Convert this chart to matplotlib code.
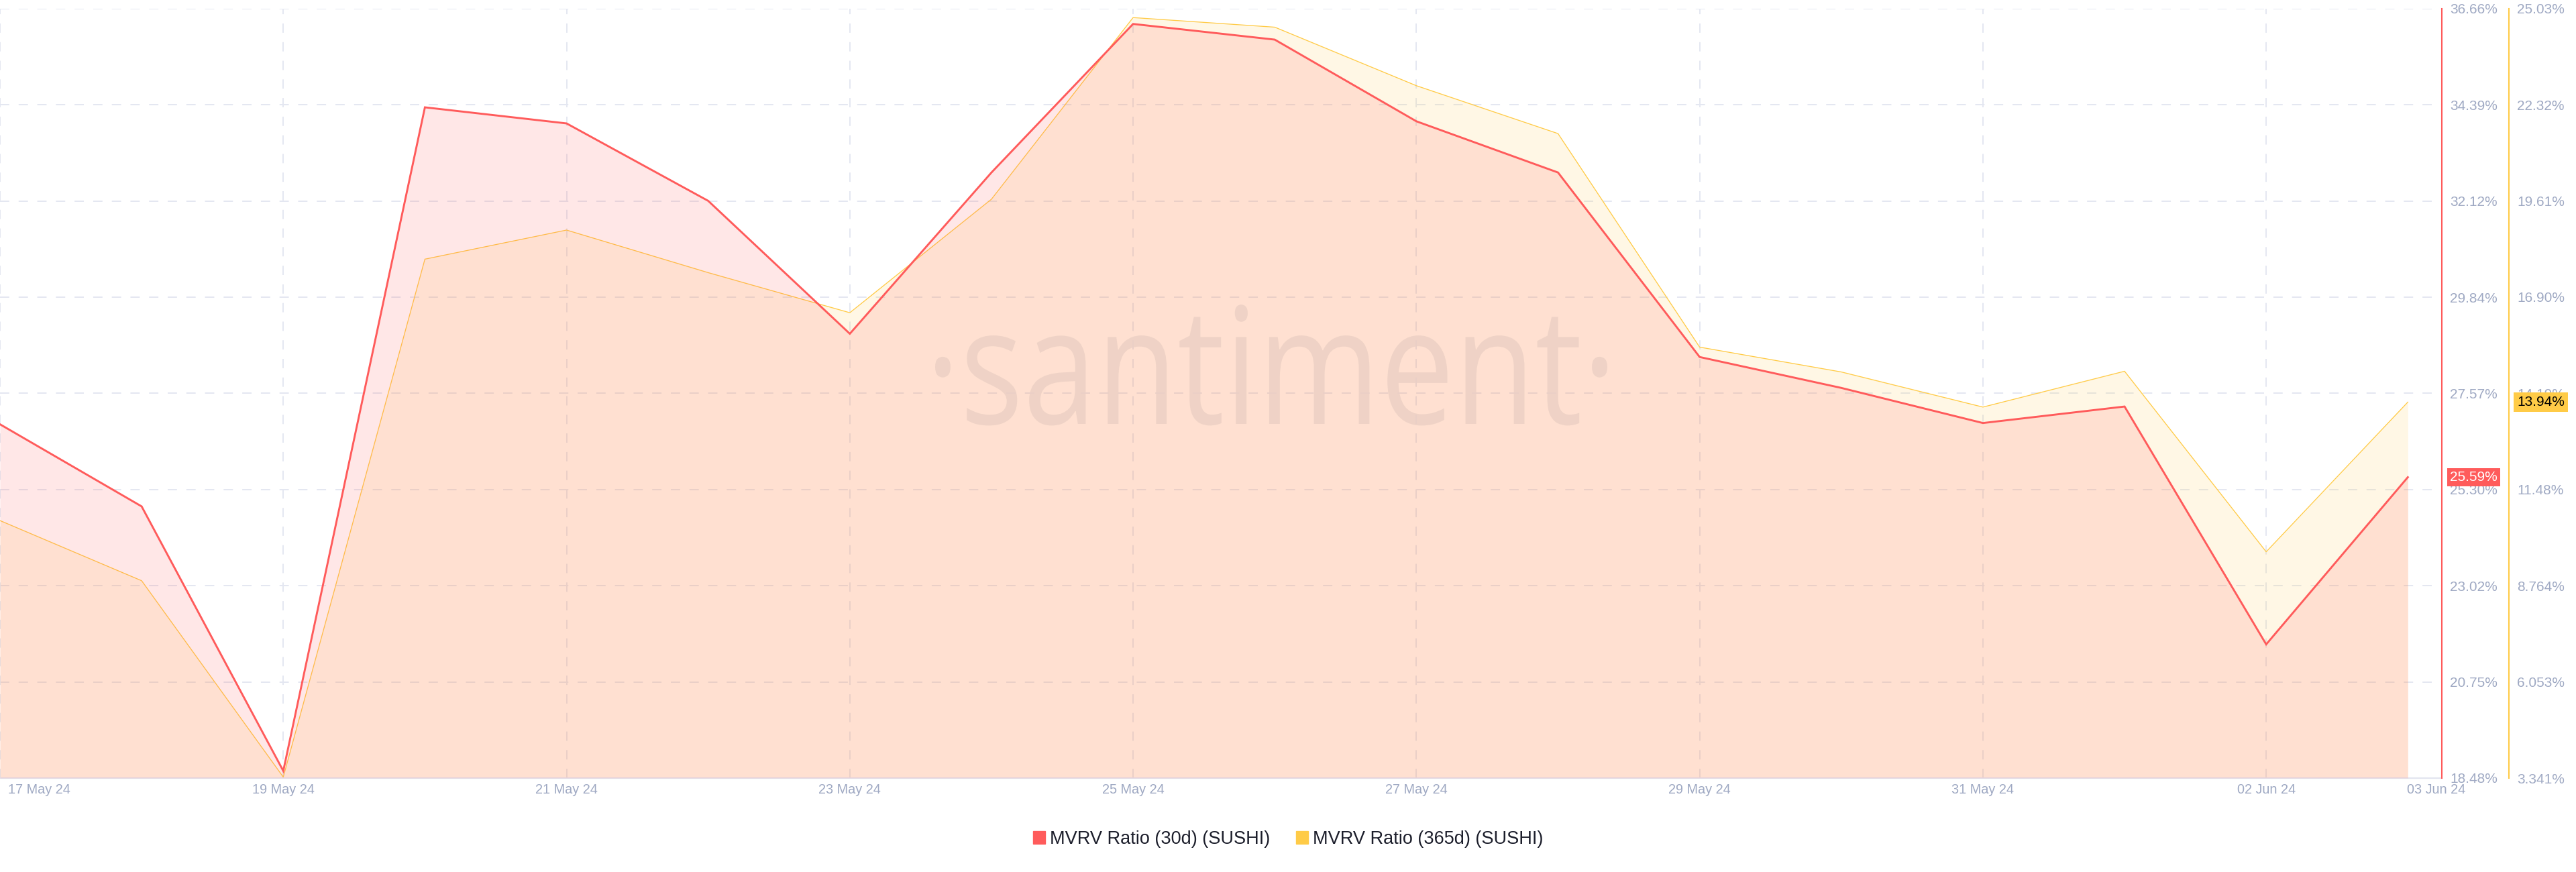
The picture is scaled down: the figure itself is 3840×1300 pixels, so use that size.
import matplotlib
matplotlib.use("Agg")
import matplotlib.pyplot as plt
import matplotlib.dates as mdates
import matplotlib.transforms as mtransforms
import pandas as pd
from matplotlib.patches import Patch, PathPatch
from matplotlib.textpath import TextPath
from matplotlib.font_manager import FontProperties

plt.rcParams["font.family"] = ["Liberation Sans", "DejaVu Sans"]
plt.rcParams["lines.scale_dashes"] = False

# daily values
dates = ["2024-05-17", "2024-05-18", "2024-05-19", "2024-05-20", "2024-05-21",
         "2024-05-22", "2024-05-23", "2024-05-24", "2024-05-25", "2024-05-26",
         "2024-05-27", "2024-05-28", "2024-05-29", "2024-05-30", "2024-05-31",
         "2024-06-01", "2024-06-02", "2024-06-03"]
mvrv_30d = [26.84, 24.90, 18.65, 34.33, 33.95, 32.12, 28.98, 32.79, 36.30,
            35.93, 34.00, 32.79, 28.43, 27.70, 26.87, 27.26, 21.64, 25.59]
mvrv_365d = [10.60, 8.905, 3.37, 17.97, 18.79, 17.59, 16.46, 19.66, 24.78,
             24.51, 22.86, 21.51, 15.49, 14.79, 13.80, 14.81, 9.72, 13.94]

red_ticks = [18.48, 20.75, 23.02, 25.30, 27.57, 29.84, 32.12, 34.39, 36.66]
red_labels = ["18.48%", "20.75%", "23.02%", "25.30%", "27.57%", "29.84%",
              "32.12%", "34.39%", "36.66%"]
yel_ticks = [3.341, 6.053, 8.764, 11.48, 14.19, 16.90, 19.61, 22.32, 25.03]
yel_labels = ["3.341%", "6.053%", "8.764%", "11.48%", "14.19%", "16.90%",
              "19.61%", "22.32%", "25.03%"]

series_names = ["MVRV Ratio (30d) (SUSHI)", "MVRV Ratio (365d) (SUSHI)"]

RED = "#ff5b5b"
YEL = "#ffcb47"
TICK_C = "#9fa9c3"
GRID_C = "#e4e7f1"

x = mdates.date2num(pd.to_datetime(dates))

W, H = 3840, 1300
fig = plt.figure(figsize=(W / 100, H / 100), dpi=100)
ax = fig.add_axes([0, 140 / H, 3640 / W, 1147 / H])
ax2 = ax.twinx()

# 365d series on the base axes, 30d on the twin so it sits on top
ax.fill_between(x, mvrv_365d, yel_ticks[0], color=YEL, alpha=0.14, lw=0, zorder=1)
ax.plot(x, mvrv_365d, color=YEL, lw=0.95, zorder=2, solid_joinstyle="miter")
ax2.fill_between(x, mvrv_30d, red_ticks[0], color=RED, alpha=0.14, lw=0, zorder=1)
ax2.plot(x, mvrv_30d, color=RED, lw=2.1, zorder=2, solid_joinstyle="miter")

ax.set_xlim(x[0], x[0] + 17.24)
ax.set_ylim(yel_ticks[0], yel_ticks[-1])
ax2.set_ylim(red_ticks[0], red_ticks[-1])

# x axis
ax.set_xticks(x[:-1:2])
ax.set_xticks([x[-1]], minor=True)
fmt = mdates.DateFormatter("%d %b %y")
ax.xaxis.set_major_formatter(fmt)
ax.xaxis.set_minor_formatter(fmt)
ax.tick_params(axis="x", which="both", length=0, pad=6, labelsize=14.3,
               labelcolor=TICK_C)

# y axes on the right
ax.yaxis.tick_right()
ax.set_yticks(yel_ticks, labels=yel_labels)
ax2.set_yticks(red_ticks, labels=red_labels)
for a in (ax, ax2):
    a.tick_params(axis="y", length=0, pad=8.6, labelsize=15, labelcolor=TICK_C)
    for s in ("top", "left"):
        a.spines[s].set_visible(False)
ax.spines["right"].set_position(("outward", 72))
ax.spines["right"].set_color(YEL)
ax.spines["right"].set_linewidth(1.5)
ax2.spines["right"].set_color(RED)
ax2.spines["right"].set_linewidth(1.5)
ax2.spines["bottom"].set_visible(False)
ax.spines["bottom"].set_color("#e2e5ef")
ax.spines["bottom"].set_linewidth(1.6)

ax.set_axisbelow(True)
ax.grid(True, which="major", color=GRID_C, lw=1.4, linestyle=(0, (10, 10)))

# nudge the first and last date labels like the original
lab = ax.get_xticklabels()
lab[0].set_ha("left")
lab[0].set_transform(lab[0].get_transform()
                     + mtransforms.ScaledTranslation(12 / 100, 0, fig.dpi_scale_trans))
mlab = ax.get_xticklabels(minor=True)
mlab[0].set_transform(mlab[0].get_transform()
                      + mtransforms.ScaledTranslation(42 / 100, 0, fig.dpi_scale_trans))

# watermark
tp = TextPath((0, 0), "\u00b7santiment\u00b7", size=1,
              prop=FontProperties(family="Open Sans"))
bb = tp.get_extents()
sx = 1002 / bb.width
sy = 178 / bb.y1
tr = (mtransforms.Affine2D().translate(-bb.x0, 0).scale(sx, sy)
      .translate(1394, H - 632).scale(1 / W, 1 / H) + fig.transFigure)
ax.add_patch(PathPatch(tp, transform=tr, fc="#ebebf0", ec="none",
                       zorder=0.3, clip_on=False))

# last value badges
ax2.text(3652 / 3640, mvrv_30d[-1], "%.2f%%" % mvrv_30d[-1],
         transform=mtransforms.blended_transform_factory(ax2.transAxes, ax2.transData),
         ha="left", va="center", fontsize=15, color="white", zorder=5,
         bbox=dict(boxstyle="square,pad=0.2", fc=RED, ec="none"))
ax.text(3752 / 3640, mvrv_365d[-1], "%.2f%%" % mvrv_365d[-1],
        transform=mtransforms.blended_transform_factory(ax.transAxes, ax.transData),
        ha="left", va="center", fontsize=15, color="black", zorder=5,
        bbox=dict(boxstyle="square,pad=0.25", fc=YEL, ec="none"))

handles = [Patch(color=RED), Patch(color=YEL)]
fig.legend(handles, series_names, loc="center", bbox_to_anchor=(0.5, 1 - 1251 / H),
           ncol=2, frameon=False, fontsize=19.5, labelcolor="#1c1e2b",
           handlelength=0.67, handleheight=0.67, handletextpad=0.25,
           columnspacing=1.45, borderaxespad=0)

fig.savefig("out.png", dpi=100)
